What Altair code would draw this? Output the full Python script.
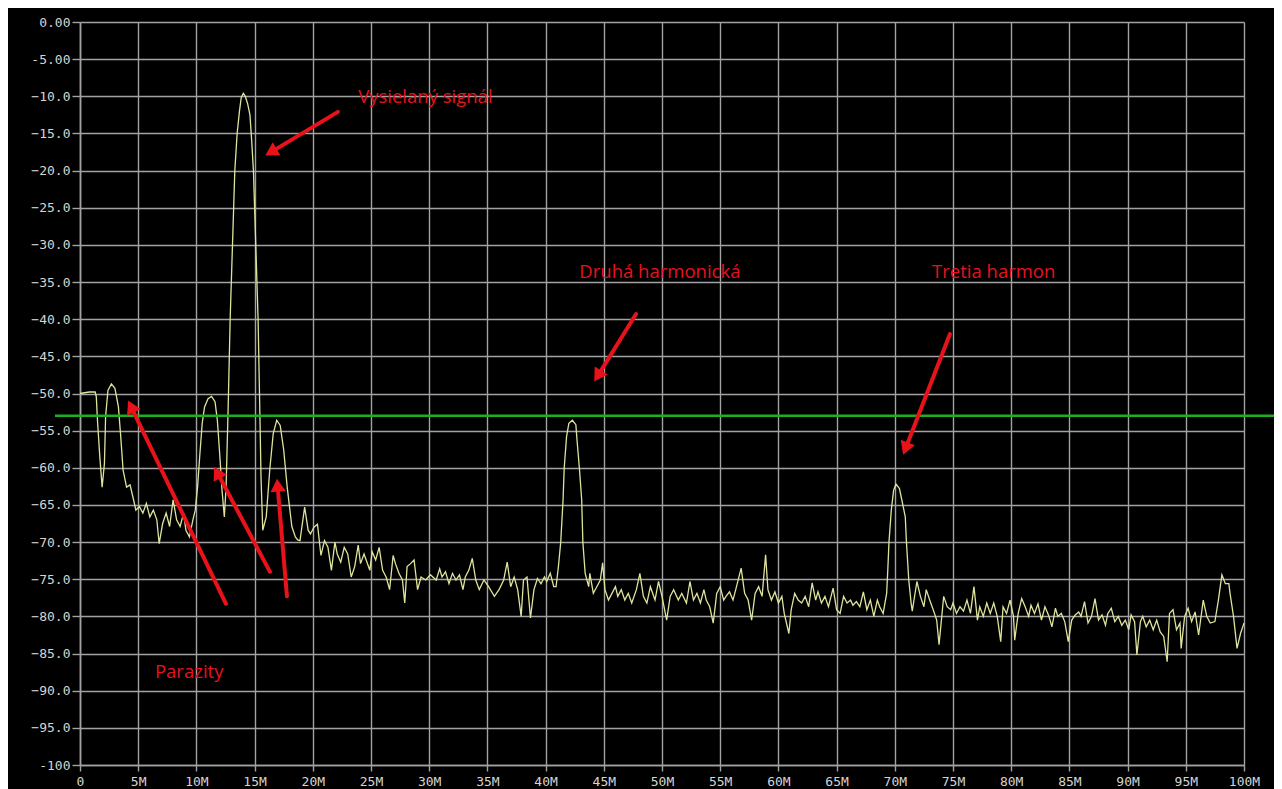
import altair as alt
import pandas as pd
import math

# ---- spectrum trace (MHz, dBm) ----
freq_mhz = [
    0.0, 0.4, 0.8, 1.3, 1.4, 1.5, 1.7, 1.9, 2.1, 2.2, 2.4, 2.7, 3.0, 3.3, 3.5, 3.7, 4.0, 4.3, 4.6, 4.8,
    5.1, 5.4, 5.7, 6.0, 6.3, 6.6, 6.8, 7.1, 7.4, 7.7, 8.0, 8.3, 8.6, 8.9, 9.1, 9.4, 9.7, 9.9,
    10.1, 10.3, 10.5, 10.7, 11.0, 11.3, 11.6, 11.8, 12.0, 12.2, 12.4, 12.55, 12.7, 12.75,
    12.9, 13.1, 13.3, 13.5, 13.7, 13.85, 14.03, 14.2, 14.4, 14.6, 14.75, 14.9, 15.1, 15.3, 15.46,
    15.55, 15.7, 16.0, 16.3, 16.6, 16.9, 17.2, 17.5, 17.8, 18.2, 18.5, 18.7,
    18.9, 19.3, 19.6, 19.8, 20.1, 20.4, 20.7, 21.0, 21.3, 21.6, 21.9, 22.1, 22.4, 22.7, 23.0, 23.3,
    23.6, 23.9, 24.1, 24.4, 24.9, 25.1, 25.4, 25.7, 26.0, 26.3, 26.6, 26.9, 27.1, 27.4, 27.7, 27.9,
    28.1, 28.4, 28.7, 29.0, 29.3, 29.7, 30.1, 30.6, 30.9, 31.1, 31.4, 31.7, 32.0, 32.3, 32.6, 32.9,
    33.1, 33.4, 33.7, 34.0, 34.3, 34.7, 35.1, 35.6, 36.0, 36.4, 36.7, 37.0, 37.3, 37.6, 37.9, 38.1,
    38.4, 38.7, 39.0, 39.3, 39.6, 39.9, 40.1, 40.4, 40.7, 40.9, 41.1, 41.3, 41.5, 41.6, 41.8, 42.0,
    42.3, 42.6, 42.7, 42.9, 43.1, 43.2, 43.4, 43.7, 43.8, 44.1, 44.4, 44.7, 44.9, 45.1, 45.4, 45.7,
    46.0, 46.2, 46.5, 46.8, 47.1, 47.4, 47.8, 48.1, 48.4, 48.7, 49.0, 49.4, 49.7, 50.0, 50.4, 50.7,
    51.0, 51.4, 51.7, 52.1, 52.4, 52.7, 53.0, 53.3, 53.6, 53.8, 54.1, 54.4, 54.7, 55.0, 55.3, 55.5,
    55.8, 56.1, 56.4, 56.8, 57.1, 57.4, 57.7, 58.0, 58.3, 58.6, 58.9, 59.1, 59.4, 59.7, 60.0, 60.3,
    60.5, 60.9, 61.1, 61.4, 61.7, 62.0, 62.3, 62.6, 62.9, 63.2, 63.4, 63.7, 64.0, 64.3, 64.7, 65.0,
    65.3, 65.6, 65.9, 66.2, 66.4, 66.7, 67.0, 67.3, 67.6, 67.9, 68.2, 68.5, 68.7, 69.0, 69.3, 69.4,
    69.5, 69.7, 69.9, 70.1, 70.4, 70.6, 70.9, 71.0, 71.2, 71.4, 71.5, 71.9, 72.2, 72.5, 72.7, 73.0,
    73.3, 73.6, 73.8, 74.2, 74.5, 74.8, 75.0, 75.3, 75.6, 75.9, 76.2, 76.5, 76.8, 77.1, 77.3, 77.6,
    77.9, 78.2, 78.5, 78.8, 79.1, 79.3, 79.6, 79.9, 80.2, 80.3, 80.6, 80.9, 81.2, 81.5, 81.7, 82.0,
    82.3, 82.6, 82.9, 83.2, 83.5, 83.8, 84.0, 84.3, 84.6, 84.9, 85.2, 85.5, 85.8, 86.0, 86.3, 86.6,
    86.9, 87.2, 87.5, 87.8, 88.1, 88.3, 88.6, 88.9, 89.2, 89.5, 89.8, 90.1, 90.3, 90.6, 90.8, 91.1,
    91.3, 91.6, 91.9, 92.2, 92.5, 92.8, 93.1, 93.4, 93.6, 93.9, 94.2, 94.5, 94.6, 94.9, 95.2, 95.5,
    95.8, 96.1, 96.5, 96.8, 97.1, 97.5, 97.8, 98.1, 98.4, 98.7, 98.8, 99.1, 99.4, 99.7, 100.0,
]
level_dbm = [
    -50.0, -49.9, -49.8, -49.8, -50.4, -53.6, -58.5, -62.6, -59.4, -53.1, -49.6, -48.7, -49.3, -51.8, -55.8, -60.3, -62.6, -62.3, -64.3, -65.7,
    -65.2, -66.1, -64.8, -66.6, -65.7, -67.0, -70.2, -67.5, -66.1, -67.9, -64.3, -67.0, -67.9, -66.1, -68.4, -69.3, -67.0, -65.7,
    -62.6, -58.1, -54.0, -51.8, -50.7, -50.4, -51.1, -53.6, -58.1, -63.0, -66.6, -62.6, -53.6, -50.4,
    -40.0, -30.0, -20.0, -15.0, -12.0, -10.2, -9.6, -10.0, -11.0, -12.5, -16.0, -20.0, -30.0, -40.0, -53.3,
    -61.2, -68.4, -66.6, -60.3, -55.4, -53.6, -54.3, -57.6, -62.6, -67.9, -69.3, -69.7,
    -69.8, -65.3, -68.4, -68.9, -68.0, -67.6, -71.8, -69.8, -70.7, -73.8, -70.0, -71.6, -72.7, -70.7, -71.6, -74.7,
    -73.3, -70.4, -72.9, -71.6, -73.8, -71.3, -72.4, -70.7, -73.8, -74.7, -76.4, -71.8, -72.9, -74.2, -75.1, -78.2,
    -73.3, -72.9, -72.4, -76.4, -74.7, -75.1, -74.4, -75.1, -73.6, -74.7, -74.0, -75.6, -74.2, -75.1, -74.4, -76.4,
    -74.7, -73.8, -72.2, -75.1, -76.4, -75.1, -76.0, -77.3, -76.4, -75.1, -72.7, -76.0, -74.7, -76.4, -80.0, -75.1,
    -74.7, -80.2, -76.4, -74.9, -75.6, -74.7, -75.3, -74.2, -76.0, -76.0, -73.3, -70.0, -64.3, -60.0, -55.8, -54.0,
    -53.6, -54.2, -56.3, -60.0, -64.3, -70.0, -74.2, -76.0, -74.2, -76.9, -76.0, -75.1, -72.8, -76.4, -77.8, -76.9,
    -76.0, -77.3, -76.4, -77.8, -76.9, -78.2, -76.4, -74.2, -77.3, -78.2, -76.0, -77.8, -75.3, -77.3, -80.5, -77.3,
    -76.4, -77.8, -76.9, -78.2, -75.3, -77.8, -76.9, -78.2, -76.4, -77.8, -78.7, -80.9, -76.9, -76.0, -77.8, -77.3,
    -76.7, -77.8, -76.0, -73.5, -76.9, -77.8, -80.5, -76.9, -76.0, -77.3, -71.7, -76.4, -77.8, -76.7, -78.2, -77.3,
    -79.6, -82.3, -79.1, -76.9, -77.8, -78.2, -77.3, -78.7, -75.5, -77.8, -76.7, -78.2, -77.3, -78.7, -76.2, -79.1,
    -79.6, -77.3, -78.2, -77.8, -78.5, -78.0, -78.7, -76.7, -79.1, -77.8, -80.0, -77.8, -78.7, -79.6, -76.9, -73.7,
    -70.0, -65.7, -63.0, -62.2, -62.8, -64.3, -66.6, -70.0, -75.1, -78.2, -79.3, -75.3, -77.3, -78.7, -76.4, -77.8,
    -79.1, -80.5, -83.8, -77.3, -78.7, -79.1, -78.2, -79.6, -78.7, -79.3, -77.8, -79.6, -76.0, -80.5, -78.7, -80.0,
    -78.2, -79.6, -78.2, -80.0, -83.4, -78.7, -79.6, -77.8, -80.0, -83.2, -79.6, -77.6, -78.7, -80.0, -78.5, -79.6,
    -78.3, -80.5, -78.7, -79.8, -81.4, -78.9, -80.0, -79.6, -80.7, -83.4, -80.5, -79.8, -79.4, -80.0, -78.0, -80.9,
    -80.0, -77.6, -80.5, -79.8, -81.2, -79.6, -78.9, -80.7, -80.0, -81.2, -80.5, -81.8, -79.8, -80.7, -85.2, -80.7,
    -80.0, -81.4, -80.5, -81.8, -80.5, -82.1, -82.7, -86.1, -79.6, -79.1, -81.8, -80.9, -84.3, -80.0, -78.9, -80.7,
    -79.4, -82.5, -77.8, -80.0, -80.9, -80.7, -77.8, -74.4, -75.6, -75.6, -76.9, -80.0, -84.3, -82.3, -80.9,
]

# ---- reference (threshold) line ----
threshold_dbm = [-53.0]

# ---- annotations ----
arrow_x_start = [22.16, 47.77, 74.74, 12.54, 16.32, 17.78]
arrow_y_start = [-12.1, -39.3, -42.0, -78.3, -74.0, -77.3]
arrow_x_end = [15.89, 44.16, 70.70, 4.12, 11.51, 16.92]
arrow_y_end = [-18.0, -48.45, -58.3, -50.9, -59.8, -61.4]

label_text = ["Vysielaný signál", "Druhá harmonická", "Tretia harmon", "Parazity"]
label_x = [23.9, 42.9, 73.2, 6.44]
label_y = [-10.1, -33.6, -33.6, -87.5]

x_ticks = list(range(0, 101, 5))
y_ticks = list(range(-100, 1, 5))

W, H = 1164, 743
PAD = {"left": 72, "top": 14, "right": 30, "bottom": 24}
RED = "#e8121b"
GRID = "#a2a2a2"

trace = pd.DataFrame({"f": freq_mhz, "db": level_dbm})

# arrow geometry (screen px per unit, to orient heads)
sx, sy = W / 100.0, H / 100.0
rows = []
for xs, ys, xe, ye in zip(arrow_x_start, arrow_y_start, arrow_x_end, arrow_y_end):
    dx = (xe - xs) * sx
    dy = -(ye - ys) * sy
    L = math.hypot(dx, dy)
    back = 7.0 / L
    hx = xe - (xe - xs) * back
    hy = ye - (ye - ys) * back
    ang = math.degrees(math.atan2(dx, -dy)) % 360
    rows.append({"xs": xs, "ys": ys, "xe": xe, "ye": ye, "hx": hx, "hy": hy, "ang": ang,
                 "lx": xe - (xe - xs) * (9.0 / L), "ly": ye - (ye - ys) * (9.0 / L)})
arrows = pd.DataFrame(rows)
labels = pd.DataFrame({"t": label_text, "x": label_x, "y": label_y})

xscale = alt.Scale(domain=[0, 100], nice=False, zero=False)
yscale = alt.Scale(domain=[-100, 0], nice=False, zero=False)

x_axis = alt.Axis(values=x_ticks, labelExpr="datum.value == 0 ? '0' : datum.value + 'M'",
                  title=None, grid=True, gridColor=GRID, gridWidth=1.4, domainColor=GRID,
                  domainWidth=1.6, tickColor=GRID, tickSize=6, tickWidth=1.4, labelColor="#d4d4d4",
                  labelFont="DejaVu Sans Mono", labelFontSize=13, labelPadding=4,
                  labelFlush=False, labelOverlap=False)
y_axis = alt.Axis(values=y_ticks,
                  labelExpr="datum.value == 0 ? '0.00' : datum.value == -5 ? '-5.00' : datum.value == -100 ? '-100' : format(datum.value, '.1f')",
                  title=None, grid=True, gridColor=GRID, gridWidth=1.4, domainColor=GRID,
                  domainWidth=1.6, tickColor=GRID, tickSize=8, tickWidth=1.4, labelColor="#d4d4d4",
                  labelFont="DejaVu Sans Mono", labelFontSize=13, labelPadding=2,
                  labelFlush=False, labelOverlap=False)


def X(field):
    return alt.X(field, scale=xscale, axis=x_axis)


def Y(field):
    return alt.Y(field, scale=yscale, axis=y_axis)


line = alt.Chart(trace).mark_line(color="#dfe39c", strokeWidth=1.3).encode(
    x=X("f:Q"), y=Y("db:Q"), order="f:Q")

green = alt.Chart(pd.DataFrame({"y": threshold_dbm})).mark_rule(
    color="#1fae1f", strokeWidth=2.5).encode(
    y=Y("y:Q"), x=alt.value(-25), x2=alt.value(W + PAD["right"]))

shafts = alt.Chart(arrows).mark_rule(color=RED, strokeWidth=4, strokeCap="round").encode(
    x=X("xs:Q"), y=Y("ys:Q"), x2="lx:Q", y2="ly:Q")

heads = alt.Chart(arrows).mark_point(shape="triangle-up", filled=True, color=RED,
                                     opacity=1, size=230, strokeWidth=0).encode(
    x=X("hx:Q"), y=Y("hy:Q"), angle=alt.Angle("ang:Q", scale=None))

texts = alt.Chart(labels).mark_text(color=RED, font="Open Sans", fontSize=18.5,
                                    align="left", baseline="middle").encode(
    x=X("x:Q"), y=Y("y:Q"), text="t:N")

chart = alt.layer(line, green, shafts, heads, texts).properties(
    width=W, height=H, padding=PAD,
    autosize=alt.AutoSizeParams(type="none"),
).configure(background="black").configure_view(stroke=None)

chart.save("out.html", embed_options={"renderer": "svg", "actions": False})
